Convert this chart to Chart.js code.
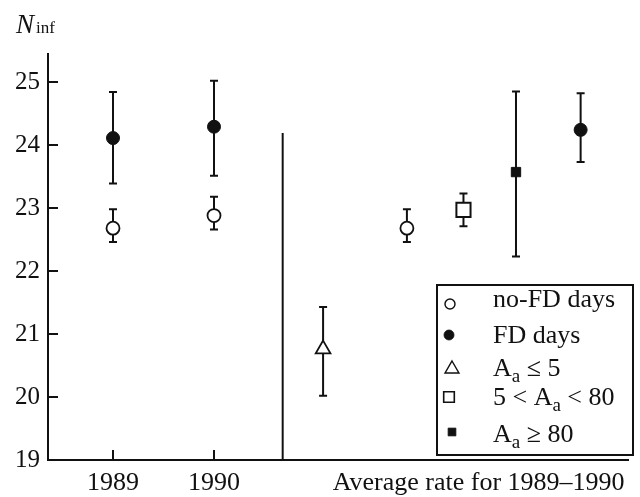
<!DOCTYPE html>
<html>
<head>
<meta charset="utf-8">
<script src="https://cdn.jsdelivr.net/npm/chart.js@4.4.0/dist/chart.umd.min.js"></script>
<style>
html,body{margin:0;padding:0;background:#fff;}
#wrap{width:640px;height:497px;position:relative;}
</style>
</head>
<body>
<div id="wrap"><canvas id="c" width="640" height="497"></canvas></div>
<script>
// ---------- data ----------
const categories = ['1989', '1990'];
const averageLabel = 'Average rate for 1989–1990';
const yTickValues = [19, 20, 21, 22, 23, 24, 25];
const seriesNames = ['no-FD days', 'FD days', 'A_a ≤ 5', '5 < A_a < 80', 'A_a ≥ 80'];

// slot of each mark on the horizontal scale (1989 = 1, 1990 = 2, then the 1989–1990 averages)
const categorySlots = [1, 2];
const averageSlot = 4.62;
const dividerSlot = 2.68;
const dividerTop = 24.19;

const noFDSlots = [1, 2, 3.91];
const noFDMean  = [22.68, 22.88, 22.68];
const noFDLow   = [22.46, 22.66, 22.46];
const noFDHigh  = [22.98, 23.18, 22.98];

const fdSlots = [1, 2, 5.63];
const fdMean  = [24.11, 24.29, 24.24];
const fdLow   = [23.39, 23.51, 23.73];
const fdHigh  = [24.84, 25.02, 24.82];

const aLowSlots = [3.08];
const aLowMean  = [20.76];
const aLowLow   = [20.02];
const aLowHigh  = [21.43];

const aMidSlots = [4.47];
const aMidMean  = [22.97];
const aMidLow   = [22.71];
const aMidHigh  = [23.23];

const aHighSlots = [4.99];
const aHighMean  = [23.57];
const aHighLow   = [22.23];
const aHighHigh  = [24.85];

// ---------- build ----------
function pts(slots, mean, lo, hi) {
  return slots.map((s, i) => ({ x: s, y: mean[i], lo: lo[i], hi: hi[i] }));
}
const INK = '#111';
const SERIF = "'Liberation Serif','Times New Roman',serif";

const markerStyles = [
  { pointStyle: 'circle',   radius: 6.5, fill: '#fff', lw: 1.8, legendRadius: 5 },
  { pointStyle: 'circle',   radius: 6.5, fill: INK,    lw: 1,   legendRadius: 5 },
  { pointStyle: 'triangle', radius: 8.5, fill: '#fff', lw: 1.8, legendRadius: 8 },
  { pointStyle: 'rect',     radius: 10,  fill: '#fff', lw: 2,   legendRadius: 7.5 },
  { pointStyle: 'rect',     radius: 6.6, fill: INK,    lw: 1,   legendRadius: 5.5 }
];

const seriesPoints = [
  pts(noFDSlots, noFDMean, noFDLow, noFDHigh),
  pts(fdSlots, fdMean, fdLow, fdHigh),
  pts(aLowSlots, aLowMean, aLowLow, aLowHigh),
  pts(aMidSlots, aMidMean, aMidLow, aMidHigh),
  pts(aHighSlots, aHighMean, aHighLow, aHighHigh)
];

const datasets = seriesNames.map((name, i) => ({
  label: name,
  data: seriesPoints[i],
  pointStyle: markerStyles[i].pointStyle,
  pointRadius: markerStyles[i].radius,
  pointHoverRadius: markerStyles[i].radius,
  pointBackgroundColor: markerStyles[i].fill,
  pointBorderColor: INK,
  pointBorderWidth: markerStyles[i].lw,
  showLine: false
}));

function drawMarker(ctx, style, r, fill, lw, x, y) {
  ctx.save();
  ctx.fillStyle = fill;
  ctx.strokeStyle = INK;
  ctx.lineWidth = lw;
  ctx.beginPath();
  if (style === 'circle') {
    ctx.arc(x, y, r, 0, Math.PI * 2);
  } else if (style === 'triangle') {
    let rad = 0;
    ctx.moveTo(x + Math.sin(rad) * r, y - Math.cos(rad) * r);
    rad += 2 * Math.PI / 3;
    ctx.lineTo(x + Math.sin(rad) * r, y - Math.cos(rad) * r);
    rad += 2 * Math.PI / 3;
    ctx.lineTo(x + Math.sin(rad) * r, y - Math.cos(rad) * r);
    ctx.closePath();
  } else {
    const s = r * Math.SQRT1_2;
    ctx.rect(x - s, y - s, 2 * s, 2 * s);
  }
  ctx.fill();
  ctx.stroke();
  ctx.restore();
}

function drawRich(ctx, text, x, y, size, subSize) {
  const parts = text.split(/_(\w)/);
  let cx = x;
  parts.forEach((p, i) => {
    if (!p) return;
    const isSub = i % 2 === 1;
    ctx.font = (isSub ? subSize : size) + 'px ' + SERIF;
    ctx.fillText(p, cx, isSub ? y + 6 : y);
    cx += ctx.measureText(p).width;
  });
}

const decor = {
  id: 'decor',
  beforeDatasetsDraw(chart) {
    const ctx = chart.ctx, xs = chart.scales.x, ys = chart.scales.y;
    ctx.save();
    ctx.strokeStyle = INK;
    ctx.lineWidth = 2;
    // divider line
    const dx = xs.getPixelForValue(dividerSlot);
    ctx.beginPath();
    ctx.moveTo(dx, ys.getPixelForValue(dividerTop));
    ctx.lineTo(dx, chart.chartArea.bottom);
    ctx.stroke();
    // error bars
    chart.data.datasets.forEach(ds => {
      ds.data.forEach(p => {
        const px = xs.getPixelForValue(p.x);
        const t = ys.getPixelForValue(p.hi), b = ys.getPixelForValue(p.lo);
        ctx.beginPath();
        ctx.moveTo(px, t); ctx.lineTo(px, b);
        ctx.moveTo(px - 4, t); ctx.lineTo(px + 4, t);
        ctx.moveTo(px - 4, b); ctx.lineTo(px + 4, b);
        ctx.stroke();
      });
    });
    ctx.restore();
  },
  afterDraw(chart) {
    const ctx = chart.ctx, xs = chart.scales.x, ys = chart.scales.y, ca = chart.chartArea;
    ctx.save();
    ctx.strokeStyle = INK;
    ctx.lineWidth = 2;
    // inward tick marks
    ys.ticks.forEach(t => {
      const py = ys.getPixelForValue(t.value);
      ctx.beginPath(); ctx.moveTo(ca.left, py); ctx.lineTo(ca.left + 10, py); ctx.stroke();
    });
    categorySlots.forEach(s => {
      const px = xs.getPixelForValue(s);
      ctx.beginPath(); ctx.moveTo(px, ca.bottom); ctx.lineTo(px, ca.bottom - 10); ctx.stroke();
    });
    // x labels
    ctx.fillStyle = INK;
    ctx.textAlign = 'center';
    ctx.textBaseline = 'alphabetic';
    ctx.font = '26px ' + SERIF;
    categories.forEach((c, i) => ctx.fillText(c, xs.getPixelForValue(categorySlots[i]), ca.bottom + 30));
    ctx.fillText(averageLabel, xs.getPixelForValue(averageSlot), ca.bottom + 30);
    // y title N_inf
    ctx.textAlign = 'left';
    ctx.font = 'italic 27px ' + SERIF;
    ctx.fillText('N', 16, 33);
    ctx.font = '17px ' + SERIF;
    ctx.fillText('inf', 36, 33);
    // legend
    const box = { l: 437, t: 285, r: 633, b: 455 };
    ctx.fillStyle = '#fff';
    ctx.fillRect(box.l, box.t, box.r - box.l, box.b - box.t);
    ctx.strokeRect(box.l, box.t, box.r - box.l, box.b - box.t);
    const baselines = [307, 343, 376, 405, 442];
    const symY = [304, 335, 369, 397, 432];
    const symX = [450, 449, 452, 449, 452];
    seriesNames.forEach((name, i) => {
      const m = markerStyles[i];
      drawMarker(ctx, m.pointStyle, m.legendRadius, m.fill, m.lw * 0.8, symX[i], symY[i]);
      ctx.fillStyle = INK;
      ctx.textAlign = 'left';
      drawRich(ctx, name, 493, baselines[i], 26, 19);
    });
    ctx.restore();
  }
};

new Chart(document.getElementById('c'), {
  type: 'scatter',
  data: { datasets },
  plugins: [decor],
  options: {
    responsive: false,
    animation: false,
    devicePixelRatio: 1,
    layout: { padding: { top: 54, right: 12, left: 0, bottom: 0 } },
    plugins: { legend: { display: false }, tooltip: { enabled: false } },
    scales: {
      x: {
        type: 'linear',
        min: 0.3564,
        max: 6.099,
        grid: { display: false, drawTicks: false },
        border: { display: true, color: INK, width: 2 },
        ticks: { display: false },
        afterFit(s) { s.height = 37; }
      },
      y: {
        type: 'linear',
        min: 19,
        max: 25.444,
        grid: { display: false, drawTicks: false },
        border: { display: true, color: INK, width: 2 },
        afterBuildTicks(s) { s.ticks = yTickValues.map(v => ({ value: v })); },
        ticks: {
          color: INK,
          padding: 8,
          font: { family: SERIF, size: 25 },
          callback: v => String(v)
        },
        afterFit(s) { s.width = 48; }
      }
    }
  }
});
</script>
</body>
</html>
